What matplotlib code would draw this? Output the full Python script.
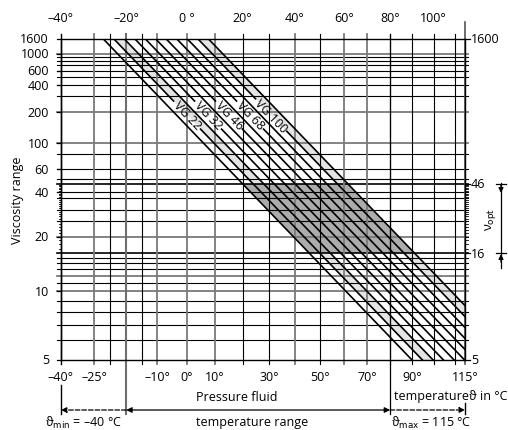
import numpy as np
import matplotlib.pyplot as plt
from matplotlib.patches import Polygon, Rectangle
from matplotlib.transforms import Affine2D, blended_transform_factory

plt.rcParams['font.family'] = ['Open Sans', 'DejaVu Sans']

W, H = 508, 431

t_lim = [-40, 115]
nu_lim = [5, 1600]

# diagonal lines: temperature (°C) where each one crosses nu=1600 and nu=5
line_t_top = [-27.2, -23.9, -20.6, -17.2, -13.8, -10.4, -6.9, -3.3, 0.3, 4.0, 7.7]
line_t_bot = [89.9, 94.7, 99.7, 104.6, 109.7, 114.8, 120.0, 125.3, 130.6, 136.0, 141.5]
vg_names = ['VG 22', 'VG 32', 'VG 46', 'VG 68', 'VG 100']
vg_line = [1, 3, 5, 7, 9]
vg_pos = [0.237, 0.237, 0.237, 0.237, 0.237]
light_pairs = [(1, 2), (9, 10)]

nu_opt = [16, 46]

grid_t_black = [-25, -15, 20, 30, 50, 80, 90, 100, 110]
grid_t_gray = [-30, -10, 0, 10, 40, 60, 70]
t_range = [-40, -20, 80, 115]

grid_nu_black = [900, 800, 700, 600, 500, 400, 300, 80, 60, 50, 40, 36, 30, 25,
                 15, 14, 13, 11, 9, 8, 7, 6]
grid_nu_gray = [1000, 200, 100, 20, 12, 10]
nu_minor = list(range(17, 46))

left_ticks = [1600, 1000, 600, 400, 200, 100, 60, 40, 20, 10, 5]
right_ticks = [1600, 46, 16, 5]
bottom_t = [-40, -30, -10, 0, 10, 30, 50, 70, 90, 115]
bottom_lab = ['\u201340\u00b0', '\u201325\u00b0', '\u201310\u00b0', '0\u00b0', '10\u00b0',
              '30\u00b0', '50\u00b0', '70\u00b0', '90\u00b0', '115\u00b0']
top_t = [-40, -20, 0, 20, 40, 60, 80, 100]
top_lab = ['\u201340\u00b0', '\u201320\u00b0', '0 \u00b0', '20\u00b0', '40\u00b0', '60\u00b0',
           '80\u00b0', '100\u00b0']


def t_fwd(t):
    return np.log10(np.asarray(t, float) + 273.15)


def t_inv(u):
    return 10 ** np.asarray(u, float) - 273.15


def nu_fwd(n):
    with np.errstate(all='ignore'):
        return np.log10(np.log10(np.asarray(n, float) + 0.7))


def nu_inv(w):
    return 10 ** (10 ** np.asarray(w, float)) - 0.7


def on_line(i, f):
    u = t_fwd(line_t_top[i]) + f * (t_fwd(line_t_bot[i]) - t_fwd(line_t_top[i]))
    w = nu_fwd(nu_lim[1]) + f * (nu_fwd(nu_lim[0]) - nu_fwd(nu_lim[1]))
    return float(t_inv(u)), float(nu_inv(w))


def band(a, b):
    return [(line_t_top[a], nu_lim[1]), (line_t_top[b], nu_lim[1]),
            (line_t_bot[b], nu_lim[0]), (line_t_bot[a], nu_lim[0])]


fig = plt.figure(figsize=(W / 100, H / 100), dpi=100)
ax = fig.add_axes([61 / W, 1 - 361 / H, 404 / W, 321 / H])
ax.set_xscale('function', functions=(t_fwd, t_inv))
ax.set_yscale('function', functions=(nu_fwd, nu_inv))
ax.set_xlim(t_lim)
ax.set_ylim(nu_lim)
ax.set_xticks([])
ax.set_yticks([])
ax.minorticks_off()
for s in ax.spines.values():
    s.set_linewidth(1.0)

px = Affine2D().scale(1 / W, -1 / H).translate(0, 1) + fig.transFigure
xpx = blended_transform_factory(ax.transData, px)
ypx = blended_transform_factory(px, ax.transData)

# shaded areas
opt = Polygon(band(0, len(line_t_top) - 1), closed=True, fc='#acacac', ec='none', zorder=1)
ax.add_patch(opt)
clip = Rectangle((t_lim[0], nu_opt[0]), t_lim[1] - t_lim[0], nu_opt[1] - nu_opt[0],
                 transform=ax.transData)
opt.set_clip_path(clip)
for a, b in light_pairs:
    ax.add_patch(Polygon(band(a, b), closed=True, fc='#e4e4e4', ec='none', zorder=0.9))

# grid
for n in grid_nu_black:
    ax.plot([57, 468], [n, n], transform=ypx, color='black', lw=0.8, clip_on=False, zorder=2)
for n in nu_opt:
    ax.plot([57, 468], [n, n], transform=ypx, color='black', lw=1.2, clip_on=False, zorder=2)
for n in grid_nu_gray:
    ax.plot([57, 468], [n, n], transform=ypx, color='#7a7a7a', lw=1.3, clip_on=False, zorder=2)
for t in grid_t_black:
    ax.plot([t, t], [35, 365], transform=xpx, color='black', lw=0.8, clip_on=False, zorder=2)
for t in grid_t_gray:
    ax.plot([t, t], [35, 365], transform=xpx, color='#7a7a7a', lw=1.3, clip_on=False, zorder=2)
ax.plot([t_range[1]] * 2, [35, 415], transform=xpx, color='#6e6e6e', lw=1.5, clip_on=False, zorder=2)
ax.plot([t_range[2]] * 2, [35, 415], transform=xpx, color='black', lw=0.9, clip_on=False, zorder=2)
ax.plot([t_range[0]] * 2, [35, 365], transform=xpx, color='black', lw=1.0, clip_on=False, zorder=2)
ax.plot([t_range[0]] * 2, [386, 415], transform=xpx, color='black', lw=1.0, clip_on=False)
ax.plot([t_range[3]] * 2, [23, 365], transform=xpx, color='#555555', lw=1.2, clip_on=False, zorder=2)
ax.plot([t_range[3]] * 2, [404, 415], transform=xpx, color='black', lw=1.0, clip_on=False)

# minor ticks in the optimum range
for n in nu_minor:
    ax.plot([58.5, 61], [n, n], transform=ypx, color='black', lw=0.6, clip_on=False)
    ax.plot([465, 467.5], [n, n], transform=ypx, color='black', lw=0.6, clip_on=False)

# diagonal lines with gaps for the labels
label_of = dict(zip(vg_line, zip(vg_names, vg_pos)))
for i in range(len(line_t_top)):
    p0 = on_line(i, 0)
    p3 = on_line(i, 1)
    if i in label_of:
        name, f = label_of[i]
        gap = (len(name) * 3.1 + 4) / 445
        p1 = on_line(i, f - gap)
        p2 = on_line(i, f + gap)
        ax.plot([p0[0], p1[0]], [p0[1], p1[1]], color='black', lw=1.2, zorder=3)
        ax.plot([p2[0], p3[0]], [p2[1], p3[1]], color='black', lw=1.2, zorder=3)
        d0 = ax.transData.transform(p0)
        d3 = ax.transData.transform(p3)
        ang = np.degrees(np.arctan2(d3[1] - d0[1], d3[0] - d0[0]))
        tc, nc = on_line(i, f)
        ax.text(tc, nc, name, rotation=ang, rotation_mode='anchor', ha='center',
                va='center', fontsize=9, zorder=4)
    else:
        ax.plot([p0[0], p3[0]], [p0[1], p3[1]], color='black', lw=1.2, zorder=3)

# axis labels
for n in left_ticks:
    ax.plot([57, 61], [n, n], transform=ypx, color='black', lw=0.9, clip_on=False)
    ax.text(49, n, str(n), transform=ypx, ha='right', va='center', fontsize=9)
for n in right_ticks:
    ax.plot([465, 470], [n, n], transform=ypx, color='black', lw=0.9, clip_on=False)
    ax.text(471, n, str(n), transform=ypx, ha='left', va='center', fontsize=9)
for t, s in zip(bottom_t, bottom_lab):
    ax.text(t, 378, s, transform=xpx, ha='center', va='center', fontsize=9)
for t, s in zip(top_t, top_lab):
    ax.text(t, 18, s, transform=xpx, ha='center', va='center', fontsize=9)

fig.text(18 / W, 1 - 200 / H, 'Viscosity range', rotation=90, ha='center', va='center', fontsize=9)
fig.text(237 / W, 1 - 398 / H, 'Pressure fluid', ha='center', va='center', fontsize=9)
fig.text(508 / W, 1 - 397 / H, 'temperature\u03d1 in \u00b0C', ha='right', va='center', fontsize=9)
fig.text(252 / W, 1 - 423 / H, 'temperature range', ha='center', va='center', fontsize=9)
fig.text(45 / W, 1 - 423 / H, '\u03d1$_{\\mathrm{min}}$ = \u201340 \u00b0C', ha='left', va='center', fontsize=9)
fig.text(391 / W, 1 - 423 / H, '\u03d1$_{\\mathrm{max}}$ = 115 \u00b0C', ha='left', va='center', fontsize=9)

# temperature range arrows
ap = dict(arrowstyle='-|>', color='black', lw=0.9, mutation_scale=8, shrinkA=0, shrinkB=0)
ax.annotate('', xy=(t_range[0], 411), xytext=(t_range[1], 411), xycoords=xpx, textcoords=xpx,
            arrowprops=dict(ap, linestyle='--'))
ax.annotate('', xy=(t_range[1], 411), xytext=(t_range[2], 411), xycoords=xpx, textcoords=xpx,
            arrowprops=dict(ap, arrowstyle='<|-|>'))
ax.annotate('', xy=(t_range[3], 411), xytext=(t_range[2], 411), xycoords=xpx, textcoords=xpx,
            arrowprops=dict(ap, linestyle='--'))

# optimum viscosity marker
y_hi = H - ax.transData.transform((t_lim[0], nu_opt[1]))[1]
y_lo = H - ax.transData.transform((t_lim[0], nu_opt[0]))[1]
for y in (y_hi, y_lo):
    ax.plot([496, 506], [y, y], transform=px, color='black', lw=0.9, clip_on=False)
ax.plot([501, 501], [y_hi - 1, y_lo + 15], transform=px, color='black', lw=0.9, clip_on=False)
ax.annotate('', xy=(501, y_hi + 9), xytext=(501, y_hi + 1), xycoords=px, textcoords=px,
            arrowprops=dict(ap, mutation_scale=7))
ax.annotate('', xy=(501, y_lo + 1), xytext=(501, y_lo + 9), xycoords=px, textcoords=px,
            arrowprops=dict(ap, mutation_scale=7))
ax.text(490, (y_hi + y_lo) / 2, '\u03bd$_{\\mathrm{opt}}$', transform=px, rotation=90,
        ha='center', va='center', fontsize=9)

fig.savefig('out.png', dpi=100)
